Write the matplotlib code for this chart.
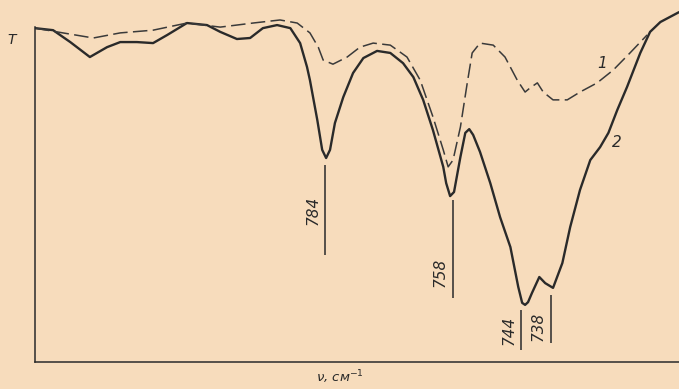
import matplotlib
matplotlib.use("Agg")

import matplotlib.pyplot as plt

# --- IR spectrum, curve 2 (solid): wavenumber [cm^-1] vs transmittance [arb.] ---
nu2 = [843.2, 839.5, 836.0, 832.0, 828.5, 825.8, 822.4, 819.1, 816.2, 812.2,
       808.1, 805.4, 802.0, 799.3, 796.7, 793.8, 791.1, 789.1, 787.7, 787.1,
       785.6, 784.6, 783.8, 783.0, 782.0, 780.3, 778.3, 776.2, 773.4, 770.7,
       768.1, 766.0, 764.0, 762.0, 759.9, 759.3, 758.5, 757.7, 756.4, 755.4,
       754.6, 753.8, 752.4, 750.3, 748.3, 746.2, 744.6, 743.8, 743.2, 742.6,
       741.8, 740.3, 739.1, 737.5, 735.6, 734.0, 732.0, 729.9, 727.9, 726.2,
       724.4, 722.4, 719.7, 717.7, 715.6, 711.8]
T2 = [98.2, 97.6, 94.1, 89.7, 92.6, 94.1, 94.1, 93.8, 96.2, 99.7,
      99.1, 97.1, 95.0, 95.3, 98.2, 99.1, 98.2, 93.8, 86.8, 82.9,
      71.2, 62.4, 60.0, 62.4, 70.3, 77.9, 85.0, 89.4, 91.5, 90.9,
      87.9, 83.8, 77.1, 68.2, 57.4, 52.6, 48.8, 50.0, 60.3, 67.4,
      68.5, 66.8, 61.8, 52.6, 42.6, 33.8, 22.1, 17.4, 16.8, 17.6,
      20.3, 25.0, 23.2, 21.8, 29.1, 39.7, 50.6, 59.4, 63.2, 67.4,
      74.1, 80.9, 90.9, 97.1, 100.0, 102.9]

# --- curve 1 (dashed) ---
nu1 = [843.2, 837.5, 831.3, 825.8, 819.1, 812.2, 805.4, 798.7, 793.2, 789.7,
       787.1, 785.4, 784.4, 782.4, 779.5, 776.9, 774.2, 770.7, 767.3, 764.6,
       762.0, 759.9, 758.9, 757.9, 756.4, 755.0, 754.0, 752.4, 749.7, 747.3,
       744.8, 743.2, 742.2, 740.7, 739.5, 737.5, 734.6, 732.0, 728.5, 725.2,
       721.8, 718.3]
T1 = [98.2, 96.8, 95.3, 96.8, 97.6, 99.7, 98.5, 99.7, 100.6, 99.7,
      96.8, 92.6, 88.8, 87.6, 89.7, 92.6, 93.8, 93.2, 89.7, 82.9,
      72.1, 62.4, 57.4, 59.4, 69.1, 82.1, 90.9, 93.8, 93.2, 89.7,
      82.9, 79.4, 80.6, 82.1, 79.4, 77.1, 77.1, 79.4, 82.1, 85.9,
      90.9, 96.2]

# --- band marks ---
peaks = [784, 758, 744, 738]
peak_labels = ["784", "758", "744", "738"]
mark_top = [57.9, 47.6, 15.3, 19.7]
mark_bottom = [31.5, 18.8, 3.5, 5.6]
label_y = [44.7, 26.5, 9.4, 10.6]

paper = "#f7dcbc"
ink = "#2a2a2a"

fig = plt.figure(figsize=(6.79, 3.89), dpi=100, facecolor=paper)
ax = fig.add_axes([0.0515, 0.0694, 0.9485, 0.9046])
ax.set_facecolor(paper)

ax.plot(nu2, T2, color=ink, lw=1.7, solid_joinstyle="round", solid_capstyle="round")
ax.plot(nu1, T1, color="#3a3a3a", lw=1.1, dashes=(9.5, 3.5))

ax.vlines(peaks, mark_bottom, mark_top, color=ink, lw=1.1)
for p, lab, y in zip(peaks, peak_labels, label_y):
    ax.text(p + 2.5, y, lab, rotation=90, ha="center", va="center",
            fontsize=11, style="italic", color=ink)

ax.text(727.5, 87.9, "1", fontsize=11, style="italic", color=ink,
        ha="center", va="center")
ax.text(724.4, 64.7, "2", fontsize=11, style="italic", color=ink,
        ha="center", va="center")

ax.set_xlim(843.2, 711.8)
ax.set_ylim(0, 103.5)
ax.set_xticks([])
ax.set_yticks([])
for s in ["top", "right"]:
    ax.spines[s].set_visible(False)
for s in ["left", "bottom"]:
    ax.spines[s].set_color(ink)
    ax.spines[s].set_linewidth(1.1)
ax.spines["left"].set_bounds(0, 98.5)

fig.text(12 / 679, 1 - 40 / 389, "T", fontsize=10, style="italic",
         color=ink, ha="center", va="center")
fig.text(340 / 679, 1 - 368 / 389, "ν, см$^{-1}$", fontsize=9.5, style="italic",
         color=ink, ha="center", va="top")

fig.savefig("out.png", dpi=100, facecolor=paper)
